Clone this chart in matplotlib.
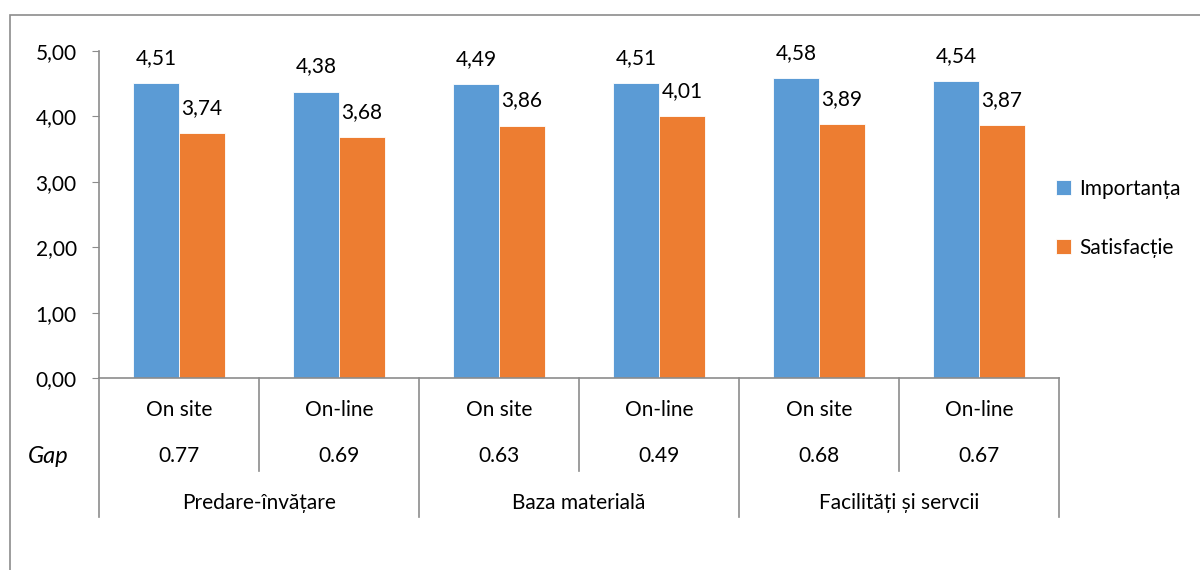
import matplotlib.pyplot as plt
from matplotlib.patches import Rectangle
from matplotlib.transforms import blended_transform_factory

plt.rcParams['font.family'] = ['Lato', 'DejaVu Sans']
plt.rcParams['font.size'] = 15

subcats = ["On site", "On-line", "On site", "On-line", "On site", "On-line"]
groups = ["Predare-învățare", "Baza materială", "Facilități și servcii"]
importanta = [4.51, 4.38, 4.49, 4.51, 4.58, 4.54]
satisfactie = [3.74, 3.68, 3.86, 4.01, 3.89, 3.87]
gap = ["0.77", "0.69", "0.63", "0.49", "0.68", "0.67"]

blue = "#5B9BD5"
orange = "#ED7D31"
grey = "#8C8C8C"

fig = plt.figure(figsize=(12, 5.7), dpi=100)
ax = fig.add_axes([99 / 1200, 1 - 378 / 570, 960 / 1200, 327 / 570])

# outer chart frame (runs off the right and bottom edges)
fig.patches.append(Rectangle((10 / 1200, -0.2), 1.5, 1.2 - 15 / 570,
                             transform=fig.transFigure, fill=False,
                             edgecolor=grey, lw=1.2))

x = list(range(len(subcats)))
w = 0.2875
b1 = ax.bar([i - w / 2 for i in x], importanta, w, color=blue,
            edgecolor="white", lw=0.6, label="Importanța")
b2 = ax.bar([i + w / 2 for i in x], satisfactie, w, color=orange,
            edgecolor="white", lw=0.6, label="Satisfacție")

for bars, vals in ((b1, importanta), (b2, satisfactie)):
    for r, v in zip(bars, vals):
        ax.annotate(f"{v:.2f}".replace(".", ","),
                    (r.get_x() + r.get_width() / 2, v),
                    xytext=(0, 18), textcoords="offset points",
                    ha="center", va="center")

ax.set_xlim(-0.5, len(subcats) - 0.5)
ax.set_ylim(0, 5)
ax.set_yticks([0, 1, 2, 3, 4, 5])
ax.set_yticklabels([f"{t:.2f}".replace(".", ",") for t in range(6)])
ax.tick_params(axis="y", length=5, color=grey, pad=11)
ax.set_xticks([])
for s in ("top", "right"):
    ax.spines[s].set_visible(False)
for s in ("left", "bottom"):
    ax.spines[s].set_color(grey)
    ax.spines[s].set_linewidth(1.2)

# multi-level category axis
tr = blended_transform_factory(ax.transData, ax.transAxes)
for k in range(len(subcats) + 1):
    depth = -0.425 if k % 2 == 0 else -0.284
    ax.plot([k - 0.5, k - 0.5], [0, depth], transform=tr, color=grey,
            lw=1.2, clip_on=False)
for i, (s, g) in enumerate(zip(subcats, gap)):
    ax.text(i, -0.098, s, transform=tr, ha="center", va="center")
    ax.text(i, -0.239, g, transform=tr, ha="center", va="center")
for j, g in enumerate(groups):
    ax.text(2 * j + 0.5, -0.382, g, transform=tr, ha="center", va="center")
ax.text(-0.053, -0.239, "Gap", transform=ax.transAxes, ha="center",
        va="center", style="italic", fontsize=17)

fig.legend(handles=[b1, b2], loc="upper left",
           bbox_to_anchor=(1056 / 1200, 1 - 179 / 570), frameon=False,
           handlelength=0.7, handleheight=0.7, handletextpad=0.4,
           labelspacing=1.85, borderpad=0, borderaxespad=0)

fig.savefig("out.png", dpi=100)
